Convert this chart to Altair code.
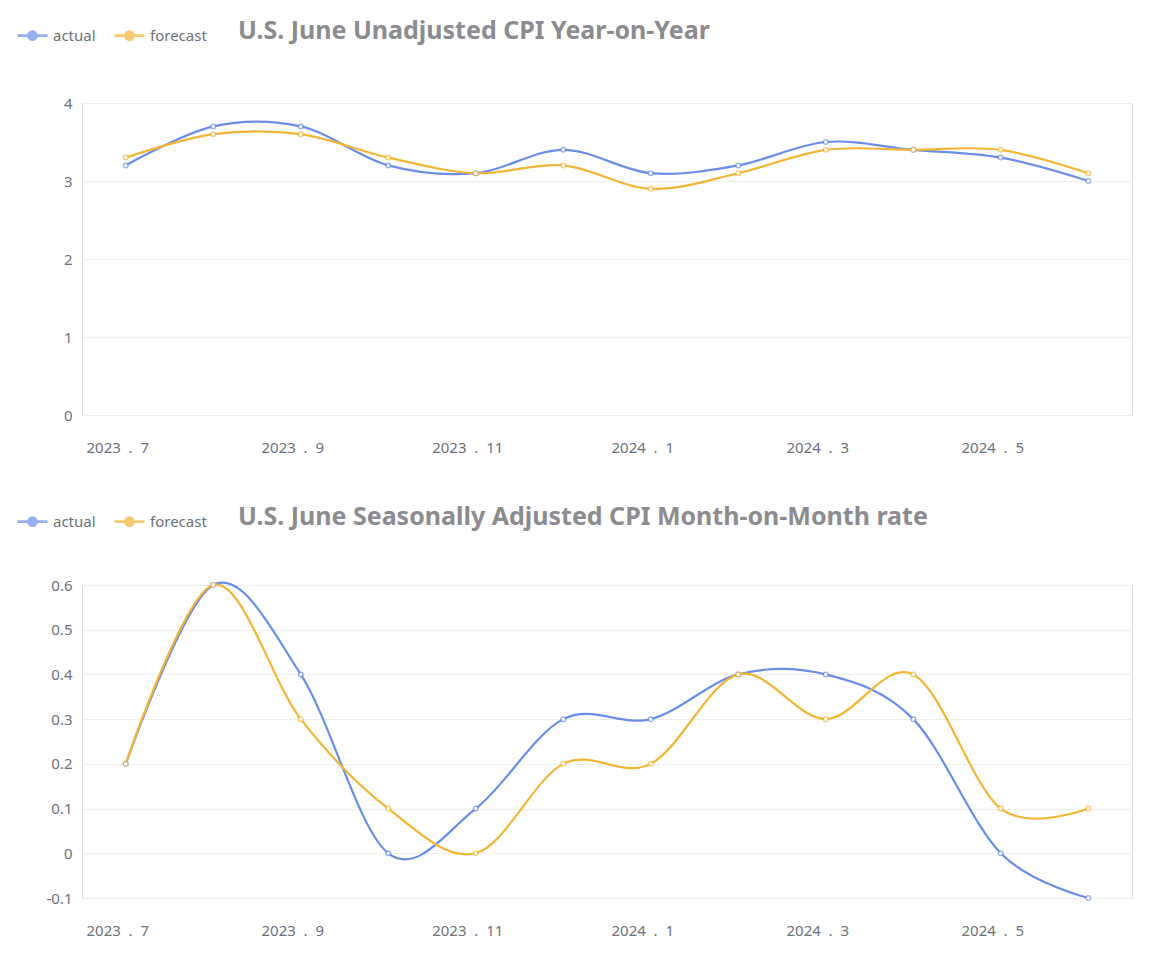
import altair as alt
import pandas as pd

NB = "\u00a0"
months = [f"2023{NB}{NB}.{NB}{NB}{m}" for m in range(7, 13)] + \
         [f"2024{NB}{NB}.{NB}{NB}{m}" for m in range(1, 7)]
shown_labels = [months[i] for i in (0, 2, 4, 6, 8, 10)]

yoy_actual = [3.2, 3.7, 3.7, 3.2, 3.1, 3.4, 3.1, 3.2, 3.5, 3.4, 3.3, 3.0]
yoy_forecast = [3.3, 3.6, 3.6, 3.3, 3.1, 3.2, 2.9, 3.1, 3.4, 3.4, 3.4, 3.1]

mom_actual = [0.2, 0.6, 0.4, 0.0, 0.1, 0.3, 0.3, 0.4, 0.4, 0.3, 0.0, -0.1]
mom_forecast = [0.2, 0.6, 0.3, 0.1, 0.0, 0.2, 0.2, 0.4, 0.3, 0.4, 0.1, 0.1]

series_names = ["actual", "forecast"]
series_colors = ["#6a8ee8", "#f3b535"]

titles = ["U.S. June Unadjusted CPI Year-on-Year",
          "U.S. June Seasonally Adjusted CPI Month-on-Month rate"]


def make_df(actual, forecast):
    rows = []
    for m, a, f in zip(months, actual, forecast):
        rows.append({"month": m, "series": "actual", "value": a})
        rows.append({"month": m, "series": "forecast", "value": f})
    return pd.DataFrame(rows)


# legend icon: a short line with a dot drawn as concentric rings
LEGEND_PATH = ("M-1,0H1"
               "M0.27,0A0.27,0.27 0 1,1 -0.27,0A0.27,0.27 0 1,1 0.27,0"
               "M0.17,0A0.17,0.17 0 1,1 -0.17,0A0.17,0.17 0 1,1 0.17,0"
               "M0.07,0A0.07,0.07 0 1,1 -0.07,0A0.07,0.07 0 1,1 0.07,0")
FONT = "Noto Sans"


def panel(df, title, y_values, domain, height, legend_x, legend_y):
    x = alt.X("month:N", sort=months, title=None,
              scale=alt.Scale(type="band", paddingInner=0, paddingOuter=0),
              axis=alt.Axis(values=shown_labels, labelAngle=0, domain=False, ticks=False,
                            tickSize=0, labelPadding=25, labelColor="#6e7079",
                            labelFontSize=15, labelOffset=-8, grid=False,
                            labelFont=FONT))
    y = alt.Y("value:Q", title=None,
              scale=alt.Scale(domain=domain, nice=False, zero=False),
              axis=alt.Axis(values=y_values, domain=False, ticks=False, tickSize=0,
                            labelPadding=10, labelColor="#6e7079", labelFontSize=15,
                            gridColor="#eeeeee", gridWidth=1,
                            labelExpr="'' + round(datum.value*10)/10",
                            labelFont=FONT))
    legend = alt.Legend(title=title, titleOrient="right", titleFontSize=25,
                        titleFont=FONT, titleFontWeight="bold", titleColor="#8b8b90",
                        titlePadding=31, titleBaseline="top", titleAnchor="start",
                        titleLimit=1000, padding=0,
                        orient="none", direction="horizontal",
                        legendX=legend_x, legendY=legend_y,
                        symbolType=LEGEND_PATH, symbolSize=900,
                        symbolStrokeWidth=2.6, symbolOffset=0,
                        labelFontSize=15, labelColor="#6e7079",
                        labelFont=FONT, columnPadding=13, labelOffset=4)
    sc = alt.Scale(domain=series_names, range=series_colors)
    base = alt.Chart(df)
    line = base.mark_line(interpolate="cardinal", strokeWidth=2.2).encode(
        x=x, y=y, color=alt.Color("series:N", sort=series_names, scale=sc, legend=legend))
    dots = base.mark_point(filled=True, size=36).encode(
        x=x, y=y, color=alt.Color("series:N", sort=series_names, scale=sc, legend=legend))
    holes = base.mark_point(filled=True, fill="white", size=12, opacity=1).encode(x=x, y=y)
    return alt.layer(line, dots, holes).properties(width=1050, height=height)


top = panel(make_df(yoy_actual, yoy_forecast), titles[0], [0, 1, 2, 3, 4], [0, 4], 312,
            -66, -84)
bottom = panel(make_df(mom_actual, mom_forecast), titles[1],
               [-0.1, 0, 0.1, 0.2, 0.3, 0.4, 0.5, 0.6], [-0.1, 0.6], 313, -66, -80)

chart = alt.concat(top, bottom, columns=1, spacing=48).resolve_scale(
    color="independent").configure_view(
    strokeWidth=0, stroke="transparent").configure(
    background="white", padding={"left": 7, "top": 10, "right": 5, "bottom": 5})

chart.save("out.html", embed_options={"renderer": "svg", "actions": False})
